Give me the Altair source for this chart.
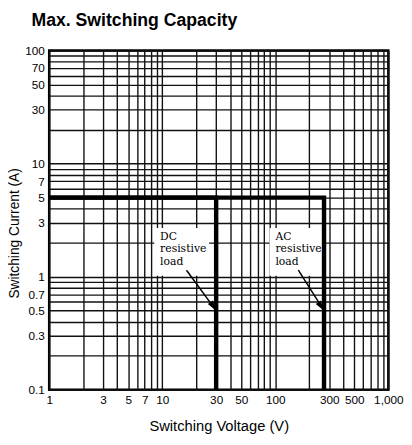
import altair as alt
import pandas as pd

# grid / tick values
grid_voltage = [1, 2, 3, 4, 5, 6, 7, 8, 9, 10, 20, 30, 40, 50, 60, 70, 80, 90,
                100, 200, 300, 400, 500, 600, 700, 800, 900, 1000]
grid_current = [0.1, 0.2, 0.3, 0.4, 0.5, 0.6, 0.7, 0.8, 0.9, 1, 2, 3, 4, 5, 6, 7, 8, 9,
                10, 20, 30, 40, 50, 60, 70, 80, 90, 100]
label_voltage = ["1", "3", "5", "7", "10", "30", "50", "100", "300", "500", "1,000"]
label_current = ["0.1", "0.3", "0.5", "0.7", "1", "3", "5", "7", "10", "30", "50", "70", "100"]

# limit curves
load_type = ["DC", "DC", "DC", "AC", "AC", "AC"]
limit_voltage = [1, 30, 30, 1, 270, 270]
limit_current = [5, 5, 0.1, 5, 5, 0.1]
point_order = [0, 1, 2, 0, 1, 2]

# annotations (data coordinates)
note_text = ["DC\nresistive\nload", "AC\nresistive\nload"]
note_v0 = [8.5, 89]
note_v1 = [26, 266]
note_a0 = [1.02, 1.02]
note_a1 = [2.7, 2.7]
arrow_v0 = [16.4, 160]
arrow_a0 = [1.14, 1.14]
arrow_v1 = [30, 270]
arrow_a1 = [0.5, 0.5]

limits = pd.DataFrame({"load": load_type, "v": limit_voltage, "a": limit_current, "o": point_order})
notes = pd.DataFrame({"t": note_text, "v0": note_v0, "v1": note_v1, "a0": note_a0, "a1": note_a1})
arrows = pd.DataFrame({"v0": arrow_v0, "a0": arrow_a0, "v1": arrow_v1, "a1": arrow_a1})

xs = alt.Scale(type="log", domain=[1, 1000], nice=False, zero=False)
ys = alt.Scale(type="log", domain=[0.1, 100], nice=False, zero=False)

def lab_expr(labels):
    arr = ",".join("'" + s + "'" for s in labels)
    return "indexof([" + arr + "], datum.label) >= 0 ? datum.label : ''"

x_axis = alt.Axis(values=grid_voltage, format=",~g", labelExpr=lab_expr(label_voltage),
                  title="Switching Voltage (V)", labelFlush=False, labelOverlap=False,
                  ticks=False, domain=False, grid=True, labelPadding=5, titlePadding=14,
                  titleFontSize=15)
y_axis = alt.Axis(values=grid_current, format="~g", labelExpr=lab_expr(label_current),
                  title="Switching Current (A)", labelFlush=False, labelOverlap=False,
                  ticks=False, domain=False, grid=True, labelPadding=5, titlePadding=3,
                  titleY=186, titleFontSize=14)

lines = alt.Chart(limits).mark_line(color="black", strokeWidth=4.5, strokeCap="butt", strokeJoin="miter").encode(
    x=alt.X("v:Q", scale=xs, axis=x_axis),
    y=alt.Y("a:Q", scale=ys, axis=y_axis),
    detail="load:N",
    order="o:Q",
)

boxes = alt.Chart(notes).mark_rect(color="white").encode(
    x=alt.X("v0:Q", scale=xs, axis=x_axis),
    x2="v1:Q",
    y=alt.Y("a0:Q", scale=ys, axis=y_axis),
    y2="a1:Q",
)

texts = alt.Chart(notes).mark_text(
    align="left", baseline="alphabetic", lineBreak="\n", lineHeight=13,
    font="DejaVu Serif", fontSize=11, color="black", dx=6, dy=12,
).encode(
    x=alt.X("v0:Q", scale=xs, axis=x_axis),
    y=alt.Y("a1:Q", scale=ys, axis=y_axis),
    text="t:N",
)

arrow_lines = alt.Chart(arrows).mark_rule(color="black", strokeWidth=1.5).encode(
    x=alt.X("v0:Q", scale=xs, axis=x_axis),
    x2="v1:Q",
    y=alt.Y("a0:Q", scale=ys, axis=y_axis),
    y2="a1:Q",
)

arrow_heads = alt.Chart(arrows).mark_point(
    shape="M0,0L-0.6,2L0.6,2Z", filled=True, size=110, color="black", opacity=1, angle=146
).encode(
    x=alt.X("v1:Q", scale=xs, axis=x_axis),
    y=alt.Y("a1:Q", scale=ys, axis=y_axis),
)

chart = alt.layer(boxes, texts, arrow_lines, arrow_heads, lines).properties(
    width=346, height=346,
    autosize="none",
    padding={"left": 42, "top": 39, "right": 16, "bottom": 52},
    title=alt.TitleParams("Max. Switching Capacity", anchor="start", frame="group", dx=-18, offset=15,
                          font="Liberation Sans", fontSize=18, fontWeight="bold", color="black"),
).configure_view(
    stroke="black", strokeWidth=2.5,
).configure_axis(
    gridColor="#111", gridWidth=1.4, gridOpacity=1,
    labelFont="Liberation Sans", labelFontSize=12, labelColor="black",
    titleFont="Liberation Sans", titleFontWeight="normal", titleColor="black",
)

chart.save("out.html", embed_options={"renderer": "svg", "actions": False})
